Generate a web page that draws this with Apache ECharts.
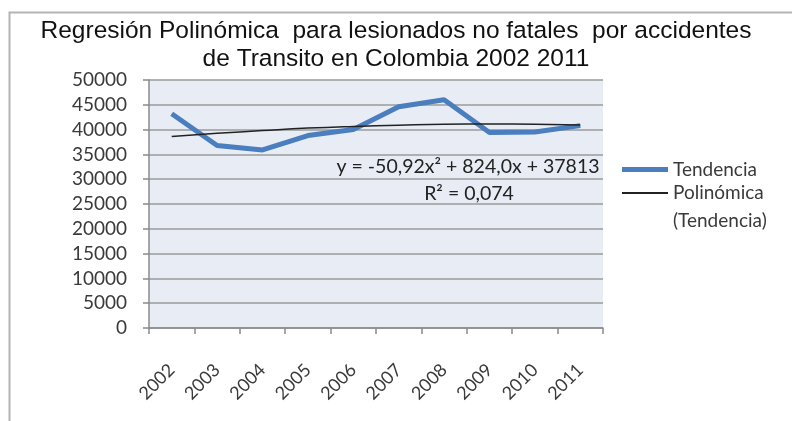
<!DOCTYPE html>
<html><head><meta charset="utf-8">
<script src="https://cdn.jsdelivr.net/npm/echarts@6/dist/echarts.min.js"></script>
<style>html,body{margin:0;padding:0;background:#fff}#c{width:792px;height:421px}</style>
</head><body><div id="c"></div>
<script>
const categories = ['2002','2003','2004','2005','2006','2007','2008','2009','2010','2011'];
const tendencia = [43200, 36800, 35900, 38800, 40000, 44600, 46000, 39400, 39500, 40800];
const polinomica = [38600, 39250, 39800, 40300, 40650, 40900, 41100, 41150, 41100, 40950];
const yTicks = {min: 0, max: 50000, interval: 5000};
const titleLines = ['Regresión Polinómica  para lesionados no fatales  por accidentes', 'de Transito en Colombia 2002 2011'];
const equationText = 'y = -50,92x² + 824,0x + 37813';
const r2Text = 'R² = 0,074';
const seriesNames = ['Tendencia', 'Polinómica (Tendencia)'];

const chart = echarts.init(document.getElementById('c'), null, {renderer: 'canvas'});
const lbl = {fontFamily: 'Lato', fontSize: 19, color: '#3a3a3a'};
chart.setOption({
  animation: false,
  backgroundColor: '#fff',
  title: {
    text: titleLines.join('\n'),
    left: 'center', top: 12,
    textStyle: {fontFamily: 'Liberation Sans', fontSize: 24.5, fontWeight: 'normal', color: '#111', lineHeight: 28}
  },
  legend: [{
    orient: 'vertical', left: 622, top: 160, padding: 0,
    icon: 'rect', itemWidth: 46, itemHeight: 5,
    data: [seriesNames[0]],
    textStyle: {fontFamily: 'Lato', fontSize: 19, color: '#3a3a3a'}
  }, {
    orient: 'vertical', left: 622, top: 151, padding: 0,
    icon: 'rect', itemWidth: 46, itemHeight: 2,
    data: [seriesNames[1]],
    formatter: n => '\u00a0\n' + n.replace(' ', '\n'),
    textStyle: {fontFamily: 'Lato', fontSize: 19, color: '#3a3a3a', lineHeight: 28}
  }],
  grid: {left: 149, right: 189, top: 80, bottom: 93},
  xAxis: {
    type: 'category', data: categories, boundaryGap: true,
    axisLine: {lineStyle: {color: '#8a8a8a', width: 1.5}},
    axisTick: {show: true, length: 6, alignWithLabel: false, lineStyle: {color: '#8a8a8a', width: 1.5}},
    axisLabel: Object.assign({rotate: 45, margin: 39, interval: 0}, lbl, {fontSize: 18})
  },
  yAxis: {
    type: 'value', min: yTicks.min, max: yTicks.max, interval: yTicks.interval,
    axisLine: {show: true, lineStyle: {color: '#8a8a8a', width: 1.5}},
    axisTick: {show: true, length: 6, lineStyle: {color: '#8a8a8a', width: 1.5}},
    axisLabel: Object.assign({margin: 22, formatter: v => String(v)}, lbl),
    splitLine: {lineStyle: {color: '#9a9a9a', width: 1.5}},
    splitArea: {show: true, areaStyle: {color: ['#e8edf5', '#e8edf5']}}
  },
  series: [{
    name: seriesNames[0], type: 'line', data: tendencia,
    symbol: 'none', lineStyle: {color: '#4a7ebf', width: 5}, itemStyle: {color: '#4a7ebf'}, z: 2
  }, {
    name: seriesNames[1], type: 'line', data: polinomica, smooth: true,
    symbol: 'none', lineStyle: {color: '#222', width: 1.5}, itemStyle: {color: '#222'}, z: 3
  }],
  graphic: [{
    type: 'rect', shape: {x: 9.5, y: 12.5, width: 820, height: 440},
    style: {fill: 'none', stroke: '#b4b4b4', lineWidth: 2}, silent: true
  }, {
    type: 'text', x: 468, y: 167, z: 10,
    style: {text: equationText, fontFamily: 'Lato', fontSize: 19.5, fill: '#222', align: 'center', verticalAlign: 'middle'}
  }, {
    type: 'text', x: 469, y: 194, z: 10,
    style: {text: r2Text, fontFamily: 'Lato', fontSize: 19.5, fill: '#222', align: 'center', verticalAlign: 'middle'}
  }]
});
</script></body></html>
